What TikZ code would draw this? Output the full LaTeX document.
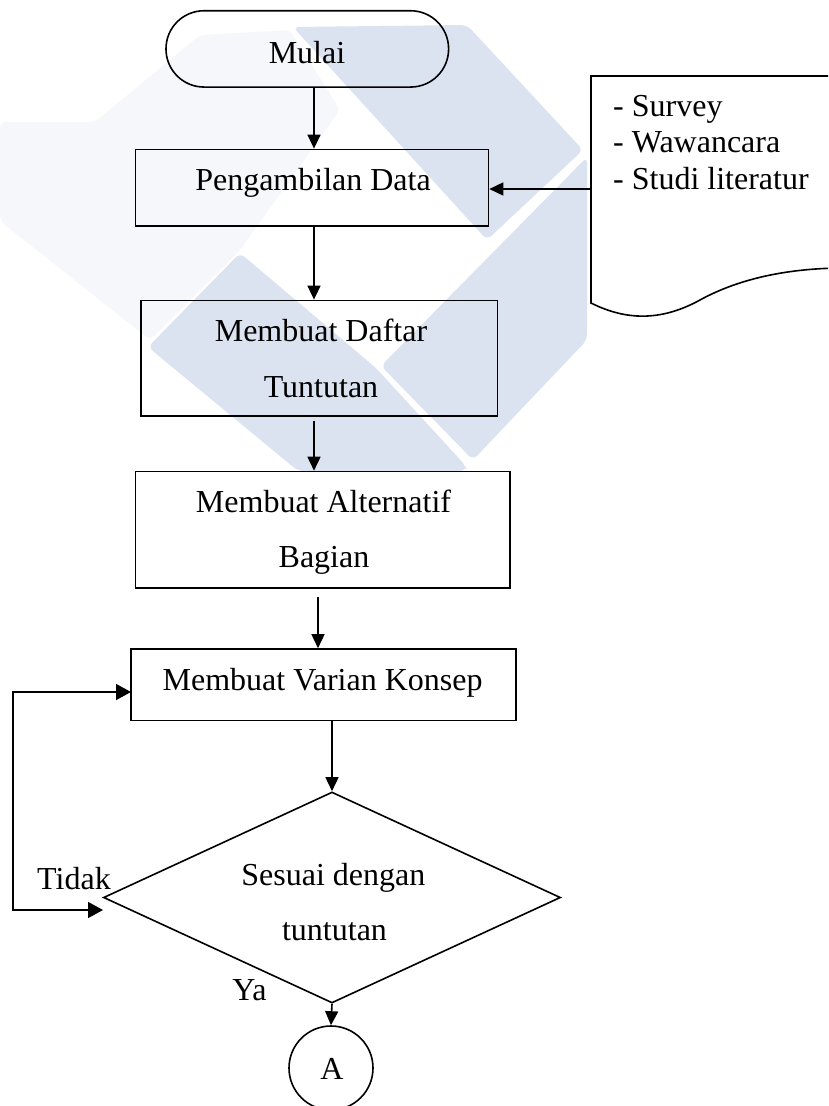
\documentclass[tikz,border=0pt]{standalone}
\usepackage{fontspec}
\setmainfont{Liberation Serif}
\usetikzlibrary{arrows.meta,shapes.geometric}
\definecolor{wmblue}{RGB}{220,227,240}
\definecolor{wmfaint}{RGB}{245,247,251}
\begin{document}
\begin{tikzpicture}[x=1pt,y=-1pt,
  wm/.style={fill=wmblue,draw=none,rounded corners=6pt},
  wmf/.style={fill=wmfaint,draw=none,rounded corners=6pt},
  box/.style={draw,line width=1.6pt,inner sep=0pt,rectangle},
  txt/.style={font=\fontsize{32}{36}\selectfont,inner sep=0pt,anchor=base},
  ltxt/.style={font=\fontsize{32}{36}\selectfont,inner sep=0pt,anchor=base west},
  arr/.style={line width=1.6pt,-{Triangle[length=14pt,width=13pt]}},
  looparr/.style={line width=1.6pt,{Triangle[length=15pt,width=16pt]}-{Triangle[length=15pt,width=16pt]}}]
\useasboundingbox (0,0) rectangle (828,1106);
\clip (0,0) rectangle (828,1106);
% watermark
\fill[wmf] (0,122) -- (95,122) -- (200,35) -- (290,30) -- (340,110) -- (240,250) -- (150,340) -- (0,221) -- cycle;
\fill[wm] (293,27) -- (467,25) -- (583,150) -- (487,240) -- cycle;
\fill[wm] (148,347) -- (240,253) -- (376,368) -- (466,466) -- (466,471) -- (298,471) -- cycle;
\fill[wm] (381,366) -- (587,157) -- (587,340) -- (473,460) -- cycle;
% nodes
\node[box,rounded corners=38pt,minimum width=282.6pt,minimum height=76.3pt] (start) at (307.3,48.9) {};
\node[txt] (startT) at (307,63) {Mulai};
\node[box,minimum width=352.9pt,minimum height=76.6pt] (peng) at (312.05,187.7) {};
\node[txt] (pengT) at (313,190) {Pengambilan Data};
\node[box,minimum width=356.6pt,minimum height=115.4pt] (daftar) at (319.3,358.1) {};
\node[txt] (daftarT1) at (321,341) {Membuat Daftar};
\node[txt] (daftarT2) at (321,397) {Tuntutan};
\node[box,minimum width=374.4pt,minimum height=116.5pt] (alt) at (322.8,529.75) {};
\node[txt] (altT1) at (323.5,512) {Membuat Alternatif};
\node[txt] (altT2) at (324,567) {Bagian};
\node[box,minimum width=385pt,minimum height=71.5pt] (varian) at (323.5,684.75) {};
\node[txt] (varT) at (322.6,690) {Membuat Varian Konsep};
\node[draw,line width=1.6pt,diamond,inner sep=0pt,minimum width=457pt,minimum height=211pt] (dec) at (332,897.5) {};
\node[txt] (decT1) at (333.4,885) {Sesuai dengan};
\node[txt] (decT2) at (334.5,940) {tuntutan};
\node[draw,line width=1.6pt,circle,inner sep=0pt,minimum size=84pt] (conn) at (331,1068) {};
\node[txt] (connT) at (332,1079) {A};
\node[txt] (tidakT) at (74,889) {Tidak};
\node[txt] (yaT) at (249.5,1000) {Ya};
% document shape
\draw[line width=1.6pt] (845,76) -- (591,76) -- (591,303) .. controls (625,320) and (660,322) .. (700,300) .. controls (740,278) and (790,268) .. (845,268);
\node[ltxt] (doc1) at (613,116) {- Survey};
\node[ltxt] (doc2) at (613,152) {- Wawancara};
\node[ltxt] (doc3) at (613,189) {- Studi literatur};
% helper coordinates
\coordinate (ax1) at (314,0);
\coordinate (ax2) at (318,0);
\coordinate (docL) at (591,189);
\coordinate (tin) at (103,910);
\coordinate (vin) at (131,692);
\coordinate (lx) at (13,0);
% connectors
\draw[arr] (start.south -| ax1) -- (peng.north -| ax1);
\draw[arr] (peng.south -| ax1) -- (daftar.north -| ax1);
\draw[arr] ([yshift=-4pt]daftar.south -| ax1) -- (alt.north -| ax1);
\draw[arr] ([yshift=-8pt]alt.south -| ax2) -- (varian.north -| ax2);
\draw[arr] (varian.south -| dec.north) -- (dec.north);
\draw[arr] (dec.south) -- (conn.north);
\draw[arr] (docL) -- (docL -| peng.east);
\draw[looparr] (tin) -- (tin -| lx) -- (vin -| lx) -- (vin);
\end{tikzpicture}
\end{document}
